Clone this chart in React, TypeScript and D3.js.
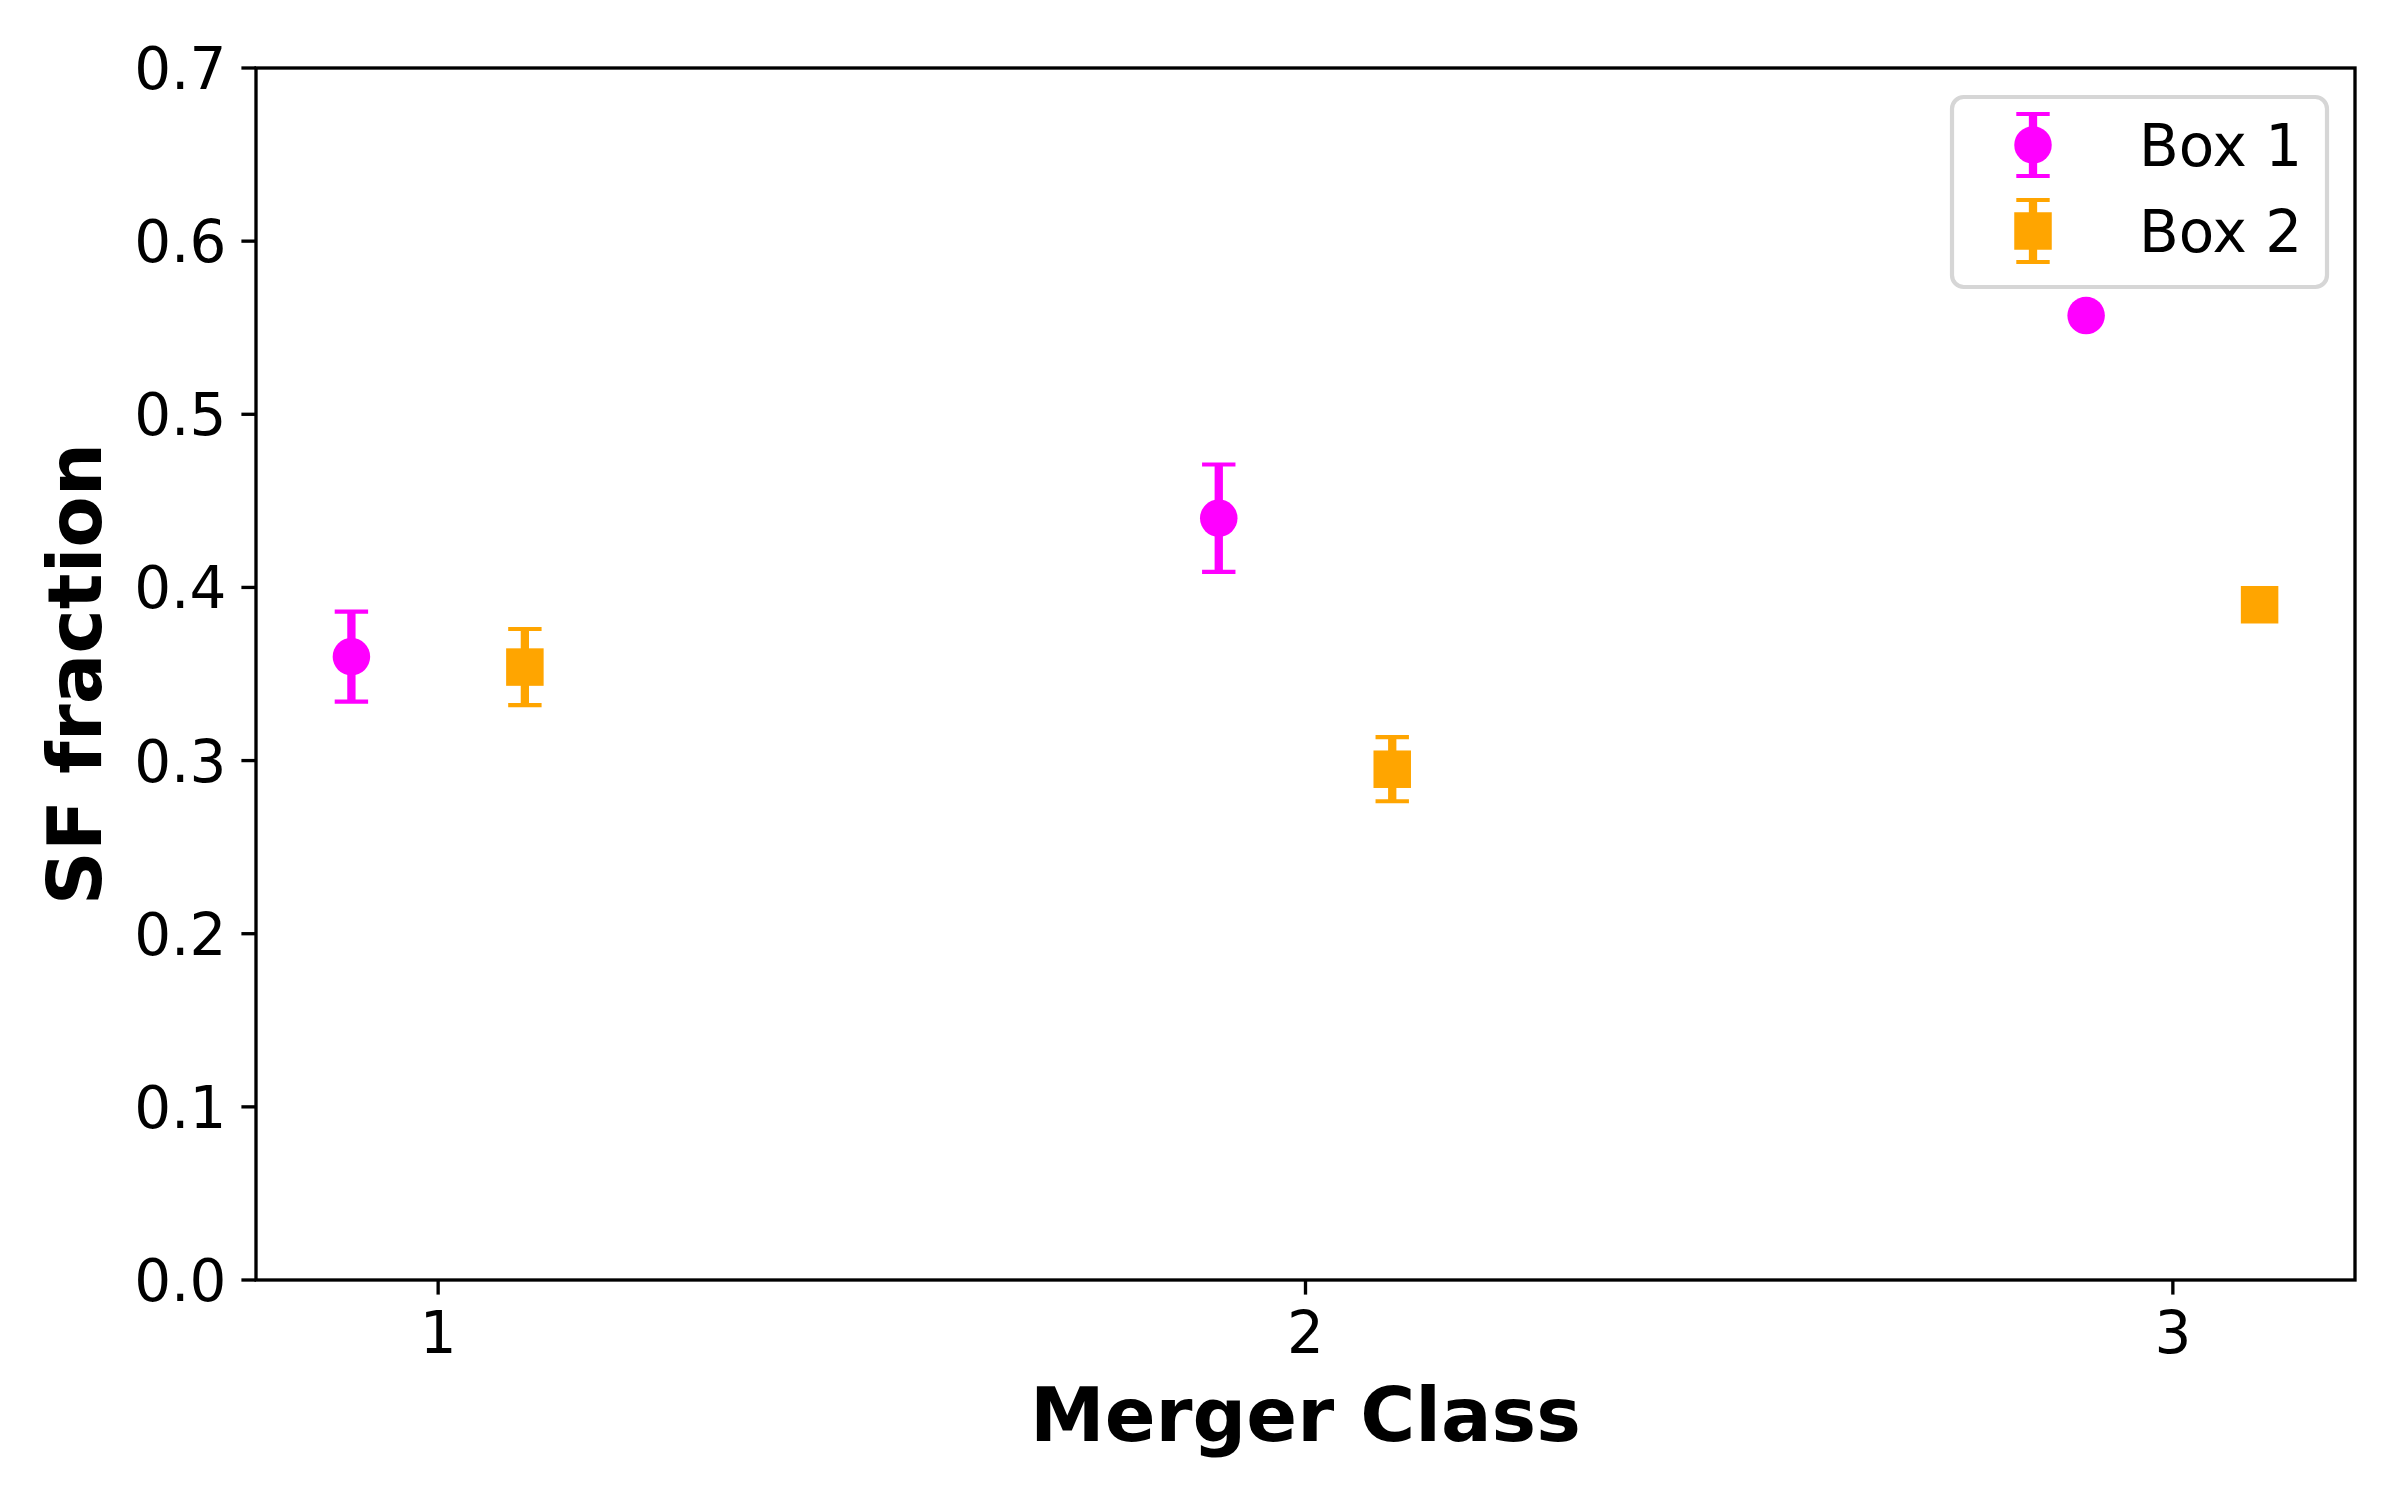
import React, { useEffect, useRef } from 'react';
import * as d3 from 'd3';

// merger class positions (offset per box so the markers don't overlap)
const box1X = [0.9, 1.9, 2.9];
const box1Y = [0.36, 0.44, 0.557];
const box1Err = [0.026, 0.031, null];

const box2X = [1.1, 2.1, 3.1];
const box2Y = [0.354, 0.295, 0.39];
const box2Err = [0.022, 0.0185, null];

const xTicks = [1, 2, 3];
const yTicks = [0, 0.1, 0.2, 0.3, 0.4, 0.5, 0.6, 0.7];

const seriesNames = ['Box 1', 'Box 2'];
const seriesColors = ['#ff00ff', '#ffa500'];

function App() {
  const ref = useRef(null);

  useEffect(() => {
    const el = ref.current;
    if (!el) return;
    el.innerHTML = '';

    const W = 2400, H = 1500;
    const left = 256, right = 2355, top = 68, bottom = 1280;
    const font = 'DejaVu Sans';
    const tickLen = 14.6;
    const lw = 3.33;

    const svg = d3.select(el).append('svg')
      .attr('width', W).attr('height', H)
      .style('position', 'absolute').style('left', 0).style('top', 0)
      .style('background', '#fff');

    const x = d3.scaleLinear().domain([0.79, 3.21]).range([left, right]);
    const y = d3.scaleLinear().domain([0, 0.7]).range([bottom, top]);

    const markerSize = 37.5;
    const capHalf = 16.7;

    const drawSeries = (xs, ys, errs, color, shape) => {
      const g = svg.append('g');
      xs.forEach((xv, i) => {
        const cx = x(xv), cy = y(ys[i]);
        const e = errs[i];
        if (e != null) {
          const y0 = y(ys[i] - e), y1 = y(ys[i] + e);
          g.append('line').attr('x1', cx).attr('x2', cx).attr('y1', y0).attr('y2', y1)
            .attr('stroke', color).attr('stroke-width', 8.3);
          [y0, y1].forEach(yy => {
            g.append('line').attr('x1', cx - capHalf).attr('x2', cx + capHalf)
              .attr('y1', yy).attr('y2', yy)
              .attr('stroke', color).attr('stroke-width', 4.2);
          });
        }
        if (shape === 'circle') {
          g.append('circle').attr('cx', cx).attr('cy', cy).attr('r', markerSize / 2).attr('fill', color);
        } else {
          g.append('rect').attr('x', cx - markerSize / 2).attr('y', cy - markerSize / 2)
            .attr('width', markerSize).attr('height', markerSize).attr('fill', color);
        }
      });
    };

    drawSeries(box1X, box1Y, box1Err, seriesColors[0], 'circle');
    drawSeries(box2X, box2Y, box2Err, seriesColors[1], 'square');

    // axes frame
    svg.append('rect')
      .attr('x', left).attr('y', top)
      .attr('width', right - left).attr('height', bottom - top)
      .attr('fill', 'none').attr('stroke', '#000').attr('stroke-width', lw);

    // y ticks
    const yAxis = svg.append('g');
    yTicks.forEach(t => {
      yAxis.append('line').attr('x1', left - tickLen).attr('x2', left)
        .attr('y1', y(t)).attr('y2', y(t)).attr('stroke', '#000').attr('stroke-width', lw);
      yAxis.append('text')
        .attr('x', left - tickLen - 15).attr('y', y(t) + 21)
        .attr('text-anchor', 'end')
        .attr('font-family', font).attr('font-size', 58)
        .text(d3.format('.1f')(t));
    });

    // x ticks
    const xAxis = svg.append('g');
    xTicks.forEach(t => {
      xAxis.append('line').attr('x1', x(t)).attr('x2', x(t))
        .attr('y1', bottom).attr('y2', bottom + tickLen).attr('stroke', '#000').attr('stroke-width', lw);
      xAxis.append('text')
        .attr('x', x(t)).attr('y', bottom + tickLen + 15 + 43)
        .attr('text-anchor', 'middle')
        .attr('font-family', font).attr('font-size', 58)
        .text(t);
    });

    // axis titles
    svg.append('text')
      .attr('x', (left + right) / 2).attr('y', 1441)
      .attr('text-anchor', 'middle')
      .attr('font-family', font).attr('font-size', 75).attr('font-weight', 'bold')
      .text('Merger Class');

    svg.append('text')
      .attr('transform', `translate(101,${(top + bottom) / 2}) rotate(-90)`)
      .attr('text-anchor', 'middle')
      .attr('font-family', font).attr('font-size', 75).attr('font-weight', 'bold')
      .text('SF fraction');

    // legend
    const lg = svg.append('g');
    lg.append('rect')
      .attr('x', 1952).attr('y', 97).attr('width', 375).attr('height', 190)
      .attr('rx', 11.7).attr('ry', 11.7)
      .attr('fill', 'rgba(255,255,255,0.8)')
      .attr('stroke', '#d6d6d6').attr('stroke-width', 4.2);

    const rowY = [145, 231];
    seriesNames.forEach((name, i) => {
      const cx = 2033, cy = rowY[i], color = seriesColors[i];
      lg.append('line').attr('x1', cx).attr('x2', cx).attr('y1', cy - 31).attr('y2', cy + 31)
        .attr('stroke', color).attr('stroke-width', 8.3);
      [cy - 31, cy + 31].forEach(yy => {
        lg.append('line').attr('x1', cx - capHalf).attr('x2', cx + capHalf)
          .attr('y1', yy).attr('y2', yy).attr('stroke', color).attr('stroke-width', 4.2);
      });
      if (i === 0) {
        lg.append('circle').attr('cx', cx).attr('cy', cy).attr('r', markerSize / 2).attr('fill', color);
      } else {
        lg.append('rect').attr('x', cx - markerSize / 2).attr('y', cy - markerSize / 2)
          .attr('width', markerSize).attr('height', markerSize).attr('fill', color);
      }
      lg.append('text')
        .attr('x', 2139).attr('y', cy + 21)
        .attr('font-family', font).attr('font-size', 58)
        .text(name);
    });
  }, []);

  return <div ref={ref} aria-label="SF fraction chart"></div>;
}

export default App;
